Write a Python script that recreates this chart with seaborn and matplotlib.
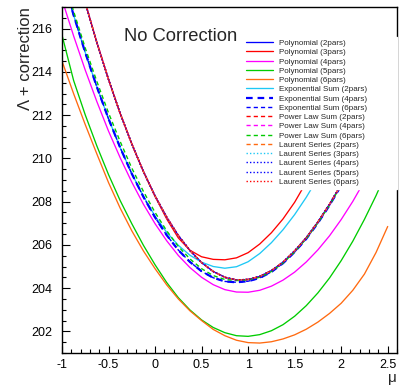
import numpy as np
import pandas as pd
import matplotlib
matplotlib.use("Agg")
import matplotlib.pyplot as plt
import seaborn as sns

sns.set_theme(style="white")
plt.rcParams['font.family'] = ['Liberation Sans', 'DejaVu Sans']

# ---- data ----
mu = [-1.0, -0.875, -0.75, -0.625, -0.5, -0.375, -0.25, -0.125, 0.0, 0.125,
      0.25, 0.375, 0.5, 0.625, 0.75, 0.875, 1.0, 1.125, 1.25, 1.375,
      1.5, 1.625, 1.75, 1.875, 2.0, 2.125, 2.25, 2.375, 2.5]
nan = np.nan

curve_main = [221.33, 219.19, 217.2, 215.35, 213.65, 212.08, 210.67, 209.39, 208.26, 207.28,
              206.43, 205.74, 205.18, 204.77, 204.5, 204.38, 204.4, 204.54, 204.81, 205.2,
              205.72, 206.33, 207.06, 207.88, 208.8, 209.89, 211.09, 212.41, 213.86]
curve_poly3 = [221.33, 219.19, 217.2, 215.35, 213.65, 212.08, 210.67, 209.39, 208.24, 207.2,
               206.32, 205.75, 205.45, 205.33, 205.31, 205.4, 205.64, 206.04, 206.56, 207.2,
               207.97, 208.9, 210.0, 211.2, 212.6, nan, nan, nan, nan]
curve_poly4 = [217.35, 215.66, 214.08, 212.62, 211.26, 210.03, 208.9, 207.88, 206.98, 206.19,
               205.51, 204.95, 204.5, 204.16, 203.93, 203.82, 203.81, 203.9, 204.09, 204.37,
               204.74, 205.21, 205.77, 206.42, 207.17, 208.01, 208.95, 209.98, 211.1]
curve_poly5 = [215.7, 213.6, 212.01, 210.57, 209.25, 208.05, 206.98, 205.98, 205.08, 204.26,
               203.56, 202.99, 202.53, 202.18, 201.94, 201.8, 201.77, 201.85, 202.03, 202.31,
               202.7, 203.19, 203.78, 204.47, 205.27, 206.17, 207.18, 208.28, 209.5]
curve_poly6 = [214.5, 212.99, 211.56, 210.2, 208.88, 207.7, 206.65, 205.72, 204.9, 204.15,
               203.5, 202.95, 202.5, 202.09, 201.8, 201.59, 201.48, 201.46, 201.52, 201.65,
               201.84, 202.1, 202.43, 202.83, 203.3, 203.9, 204.65, 205.65, 206.85]
curve_exp2 = [218.47, 216.62, 214.89, 213.3, 211.83, 210.5, 209.29, 208.25, 207.33, 206.58,
              205.98, 205.52, 205.2, 205.0, 204.92, 204.99, 205.22, 205.6, 206.1, 206.7,
              207.4, 208.2, 209.1, 210.1, 211.2, nan, nan, nan, nan]
curve_exp46 = [218.47, 216.62, 214.89, 213.3, 211.83, 210.5, 209.29, 208.22, 207.27, 206.45,
               205.76, 205.21, 204.78, 204.48, 204.31, 204.27, 204.32, 204.47, 204.75, 205.15,
               205.67, 206.28, 207.01, 207.83, 208.75, 209.84, 211.04, 212.36, 213.81]
curve_pow6 = [218.6, 216.8, 215.1, 213.55, 212.1, 210.78, 209.55, 208.47, 207.5, 206.65,
              205.93, 205.35, 204.9, 204.58, 204.4, 204.35, 204.38, 204.5, 204.77, 205.16,
              205.68, 206.29, 207.02, 207.84, 208.76, 209.85, 211.05, 212.37, 213.82]

labels = ["Polynomial (2pars)", "Polynomial (3pars)", "Polynomial (4pars)",
          "Polynomial (5pars)", "Polynomial (6pars)", "Exponential Sum (2pars)",
          "Exponential Sum (4pars)", "Exponential Sum (6pars)", "Power Law Sum (2pars)",
          "Power Law Sum (4pars)", "Power Law Sum (6pars)", "Laurent Series (2pars)",
          "Laurent Series (3pars)", "Laurent Series (4pars)", "Laurent Series (5pars)",
          "Laurent Series (6pars)"]
values = [curve_main, curve_poly3, curve_poly4, curve_poly5, curve_poly6, curve_exp2,
          curve_exp46, curve_exp46, curve_main, curve_main, curve_pow6, curve_main,
          curve_main, curve_main, curve_main, curve_main]

# ---- styles ----
BLUE, RED, MAG, GRN, ORG, CYN = "#0000ff", "#ff0000", "#ff00ff", "#00cc00", "#ff6a10", "#1ec8f5"
dash = (0, (3, 2.2))
dot = (0, (1, 1.5))
styles = [
    (BLUE, '-', 0.95), (RED, '-', 0.95), (MAG, '-', 0.95), (GRN, '-', 0.95), (ORG, '-', 0.95),
    (CYN, '-', 0.95), (BLUE, dash, 1.6), (BLUE, dash, 1.0), (RED, dash, 1.0),
    (MAG, dash, 1.0), (GRN, dash, 1.0), (ORG, dash, 1.0), (CYN, dot, 1.0),
    (BLUE, dot, 1.0), (BLUE, dot, 1.0), (RED, dot, 1.0),
]

fig = plt.figure(figsize=(4.0, 3.9), dpi=100)
ax = fig.add_axes([62/400, 1-353/390, (397-62)/400, (353-7)/390])

for lab, vals, (c, ls, lw) in zip(labels, values, styles):
    df = pd.DataFrame({"mu": mu, "val": vals}).dropna()
    sns.lineplot(data=df, x="mu", y="val", color=c, linestyle=ls, linewidth=lw,
                 label=lab, ax=ax, sort=False)

ax.set_xlim(-1.0, 2.6)
ax.set_ylim(201.0, 217.0)
ax.set_xticks([-1, -0.5, 0, 0.5, 1, 1.5, 2, 2.5])
ax.set_xticklabels(["-1", "-0.5", "0", "0.5", "1", "1.5", "2", "2.5"])
ax.set_yticks([202, 204, 206, 208, 210, 212, 214, 216])
ax.set_xticks(np.arange(-1.0, 2.61, 0.1), minor=True)
ax.set_yticks(np.arange(201.0, 217.01, 0.5), minor=True)
ax.tick_params(axis='both', which='both', direction='in', width=0.8, colors='black',
               bottom=True, left=True, top=False, right=False)
ax.tick_params(axis='x', which='major', length=5.2, labelsize=9, pad=4)
ax.tick_params(axis='x', which='minor', length=2.6)
ax.tick_params(axis='y', which='major', length=6.0, labelsize=9, pad=7)
ax.tick_params(axis='y', which='minor', length=3.0)
for sp in ax.spines.values():
    sp.set_color('black')
    sp.set_linewidth(1.0)
ax.grid(False)

ax.set_xlabel("μ", fontsize=11, loc='right', labelpad=0)
ax.set_ylabel("Λ + correction", fontsize=12, loc='top')
ax.yaxis.set_label_coords(-0.086, 1.0)

ax.text(0.185, 0.916, "No Correction", transform=ax.transAxes, fontsize=13.2,
        ha='left', va='center')

leg = ax.legend(loc='upper left', bbox_to_anchor=(0.54, 0.0, 0.46, 0.9145), mode='expand',
                fontsize=5.8, frameon=True, framealpha=1.0, facecolor='white',
                edgecolor='white', handlelength=3.35, handletextpad=0.75,
                labelspacing=0.2, borderpad=0.35, borderaxespad=0.0, fancybox=False)

fig.savefig("out.png", dpi=100)
